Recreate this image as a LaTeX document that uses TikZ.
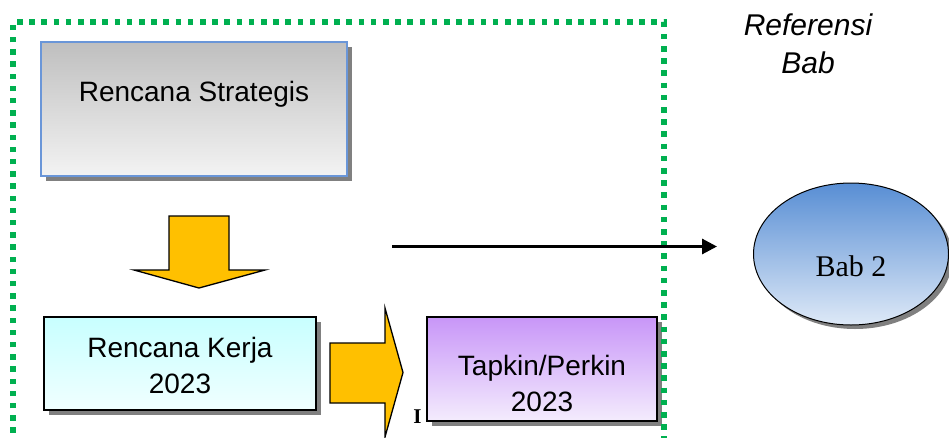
\documentclass[tikz,border=0pt]{standalone}
\usepackage{fontspec}
\setmainfont{Liberation Sans}
\newfontfamily\serifrm{Liberation Serif}
\usetikzlibrary{shadows,arrows.meta,shapes.geometric}
\definecolor{frameg}{RGB}{0,176,80}
\definecolor{arrowy}{RGB}{255,192,0}
\definecolor{rsborder}{RGB}{106,150,216}
\definecolor{shadowgray}{RGB}{128,128,128}
\definecolor{rstop}{RGB}{191,191,191}
\definecolor{rsbot}{RGB}{243,243,243}
\definecolor{rktop}{RGB}{200,255,255}
\definecolor{rkbot}{RGB}{240,255,255}
\definecolor{tptop}{RGB}{200,150,248}
\definecolor{tpbot}{RGB}{244,236,253}
\definecolor{babtop}{RGB}{88,142,212}
\definecolor{babbot}{RGB}{222,233,247}
\begin{document}
\begin{tikzpicture}[x=1pt,y=-1pt,
  boxtext/.style={font=\fontsize{28}{36}\selectfont, align=center, inner sep=0pt},
  shad/.style={drop shadow={shadow xshift=5pt, shadow yshift=-5pt, fill=shadowgray, opacity=1}},
  boxnode/.style={rectangle, inner sep=0pt, line width=1.5pt, shad},
  blockarrow/.style={fill=arrowy, draw=black, line width=1.3pt, line join=miter},
  frame/.style={draw=frameg, line width=5.5pt, dash pattern=on 5.5pt off 6.7pt},
  conn/.style={line width=3pt, -{Triangle[length=15pt,width=15pt]}}
]
\useasboundingbox (0,0) rectangle (949,437);
\clip (0,0) rectangle (949,437);

% boxes
\node[boxnode, draw=rsborder, top color=rstop, bottom color=rsbot,
      minimum width=306pt, minimum height=134pt,
      label={[boxtext, yshift=15pt]center:Rencana Strategis}] (rs) at (194,109) {};

\node[boxnode, draw=black, top color=rktop, bottom color=rkbot,
      minimum width=272pt, minimum height=93pt,
      label={[boxtext, yshift=-2pt]center:Rencana Kerja\\2023}] (rk) at (180,363.5) {};

\node[boxnode, draw=black, top color=tptop, bottom color=tpbot,
      minimum width=230pt, minimum height=104pt,
      label={[boxtext, yshift=-14pt]center:Tapkin/Perkin\\2023}] (tp) at (542,369) {};

% block arrows
\draw[blockarrow] (169,216) -- (229,216) -- (229,270) -- (265,270) -- (199,288)
   -- (134,270) -- (169,270) -- cycle;
\draw[blockarrow] (330,343) -- (385,343) -- (385,308) -- (403,372.5) -- (385,437)
   -- (385,403) -- (330,403) -- cycle;

% mark
\node[font=\serifrm\bfseries\fontsize{21}{21}\selectfont, inner sep=0pt] (mk) at (417.5,417) {I};

% ellipse
\node[ellipse, draw=black, line width=1pt, top color=babtop, bottom color=babbot,
      minimum width=195pt, minimum height=142pt, inner sep=0pt,
      drop shadow={shadow xshift=4pt, shadow yshift=-4pt, fill=shadowgray, opacity=1},
      label={[font=\serifrm\fontsize{30}{30}\selectfont, inner sep=0pt, yshift=-12pt]center:Bab 2}] (bab) at (851,254) {};

% heading
\node[font=\itshape\fontsize{30}{38}\selectfont, align=center, inner sep=0pt] (ref) at (808,44) {Referensi\\Bab};

% green dotted frame
\draw[frame] (13,445) -- (13,22) -- (664,22) -- (664,445);

% connector
\coordinate (hs) at (392,246.5);
\coordinate (he) at (717,246.5);
\draw[conn] (hs) -- (he);
\end{tikzpicture}
\end{document}
